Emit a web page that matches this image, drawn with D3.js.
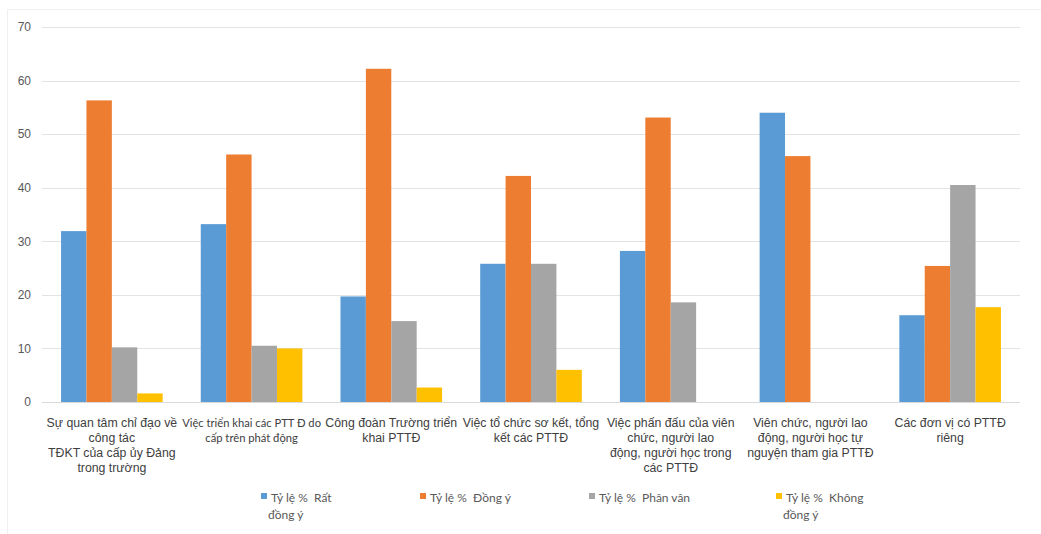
<!DOCTYPE html>
<html>
<head>
<meta charset="utf-8">
<script src="https://cdn.jsdelivr.net/npm/d3@7"></script>
<style>
  html, body { margin: 0; padding: 0; background: #ffffff; }
  svg { display: block; }
</style>
</head>
<body>
<svg id="chart" width="1041" height="534"></svg>
<script>
// ---------- DATA ----------
const categories = [
  "Sự quan tâm chỉ đạo về\ncông tác\nTĐKT của cấp ủy Đảng\ntrong trường",
  "Việc triển khai các PTT Đ do\ncấp trên phát động",
  "Công đoàn Trường triển\nkhai PTTĐ",
  "Việc tổ chức sơ kết, tổng\nkết các PTTĐ",
  "Việc phấn đấu của viên\nchức, người lao\nđộng, người học trong\ncác PTTĐ",
  "Viên chức, người lao\nđộng, người học tự\nnguyện tham gia PTTĐ",
  "Các đơn vị có PTTĐ\nriêng"
];
const seriesNames = ["Tỷ lệ %  Rất\nđồng ý", "Tỷ lệ %  Đồng ý", "Tỷ lệ %  Phân vân", "Tỷ lệ %  Không\nđồng ý"];
const ratAgree   = [31.9, 33.2, 19.7, 25.8, 28.2, 54.0, 16.2];
const agree      = [56.3, 46.2, 62.2, 42.2, 53.1, 45.9, 25.4];
const undecided  = [10.2, 10.5, 15.1, 25.8, 18.6, 0, 40.5];
const disagree   = [1.6, 10.0, 2.7, 6.0, 0, 0, 17.7];
const yTicks     = [0, 10, 20, 30, 40, 50, 60, 70];
const colors     = ["#5B9BD5", "#ED7D31", "#A5A5A5", "#FFC000"];

// ---------- LAYOUT ----------
const svg = d3.select("#chart");
const plot = { left: 42, right: 1020, top: 27, bottom: 402 };

// faint chart-area border
svg.append("rect")
  .attr("x", 7.5).attr("y", 9.5).attr("width", 1040).attr("height", 540)
  .attr("fill", "none").attr("stroke", "#f0f0f0");

const x = d3.scaleBand().domain(d3.range(categories.length))
  .range([plot.left, plot.right]).paddingInner(0).paddingOuter(0);
// Excel-like gap width 150%: band = 4w + 1.5w
const barW = x.bandwidth() / 5.5;
const xs = d3.scaleBand().domain(d3.range(4))
  .range([0.75 * barW, 0.75 * barW + 4 * barW]);
const y = d3.scaleLinear().domain([0, 70]).range([plot.bottom, plot.top]);

// gridlines
svg.append("g").selectAll("line").data(yTicks).join("line")
  .attr("x1", plot.left).attr("x2", plot.right)
  .attr("y1", d => Math.round(y(d)) + 0.5).attr("y2", d => Math.round(y(d)) + 0.5)
  .attr("stroke", "#e3e3e3").attr("stroke-width", 1.2);

// y axis labels
const yAxis = d3.axisLeft(y).tickValues(yTicks).tickSize(0).tickPadding(0);
const yg = svg.append("g").attr("transform", `translate(${plot.left - 11},0)`).call(yAxis);
yg.select(".domain").remove();
yg.selectAll("text").attr("font-family", "Liberation Sans, Arial, sans-serif")
  .attr("font-size", 12).attr("fill", "#595959");

// bars
const seriesData = [ratAgree, agree, undecided, disagree];
seriesData.forEach((vals, si) => {
  svg.append("g").selectAll("rect").data(vals).join("rect")
    .attr("x", (d, i) => x(i) + xs(si))
    .attr("width", barW)
    .attr("y", d => y(d))
    .attr("height", d => plot.bottom - y(d))
    .attr("fill", colors[si]);
});

// baseline
svg.append("line").attr("x1", plot.left).attr("x2", plot.right)
  .attr("y1", plot.bottom + 0.5).attr("y2", plot.bottom + 0.5)
  .attr("stroke", "#d9d9d9").attr("stroke-width", 1.2);

// x axis labels
const xg = svg.append("g");
categories.forEach((c, i) => {
  const cx = x(i) + x.bandwidth() / 2;
  const t = xg.append("text")
    .attr("x", cx)
    .attr("y", 427)
    .attr("text-anchor", "middle")
    .attr("font-family", i === 1 ? "Lato, sans-serif" : "Liberation Sans, Arial, sans-serif")
    .attr("font-size", i === 1 ? 11.2 : 12.3)
    .attr("fill", "#404040");
  c.split("\n").forEach((line, li) => {
    t.append("tspan").attr("x", cx).attr("dy", li === 0 ? 0 : 15).text(line);
  });
});

// legend
const legendX = [261, 420, 589, 776];
const lg = svg.append("g");
seriesNames.forEach((name, i) => {
  lg.append("rect").attr("x", legendX[i]).attr("y", 493).attr("width", 6).attr("height", 6)
    .attr("fill", colors[i]);
  const t = lg.append("text").attr("x", legendX[i] + 10).attr("y", 502)
    .attr("font-family", "Lato, sans-serif").attr("font-size", 12).attr("fill", "#595959")
    .style("white-space", "pre");
  name.split("\n").forEach((l, li) => {
    t.append("tspan").attr("x", li === 0 ? legendX[i] + 10 : legendX[i] + 7)
      .attr("dy", li === 0 ? 0 : 17).text(l);
  });
});
</script>
</body>
</html>
